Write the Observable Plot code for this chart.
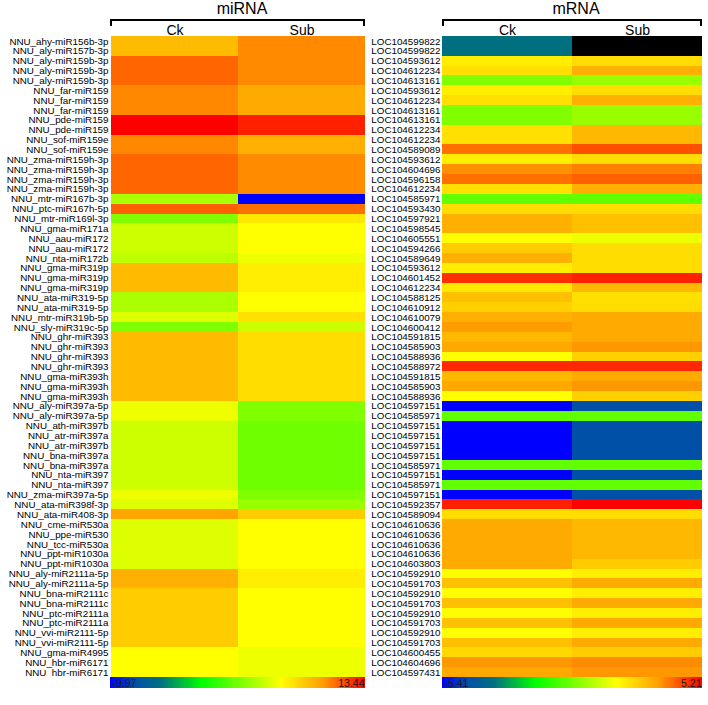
<!DOCTYPE html>
<html><head><meta charset="utf-8">
<script src="https://cdn.jsdelivr.net/npm/d3@7"></script>
<script src="https://cdn.jsdelivr.net/npm/@observablehq/plot@0.6"></script>
<style>
body{margin:0;background:#fff;}
#root{position:relative;width:708px;height:705px;font-family:"Liberation Sans",Arial,sans-serif;overflow:hidden;background:#fff;}
.title{position:absolute;font-size:16px;line-height:16px;top:1px;color:#000;white-space:nowrap;transform:translateX(-50%);}
.bracket{position:absolute;top:19px;height:7px;border:2px solid #000;border-bottom:none;box-sizing:border-box;}
.abs{position:absolute;}
</style></head><body><div id="root"></div>
<script>
// ---------- data ----------
const conditions = ["Ck", "Sub"];
const miRNA_labels = [
"NNU_ahy-miR156b-3p","NNU_aly-miR157b-3p","NNU_aly-miR159b-3p","NNU_aly-miR159b-3p","NNU_aly-miR159b-3p",
"NNU_far-miR159","NNU_far-miR159","NNU_far-miR159","NNU_pde-miR159","NNU_pde-miR159",
"NNU_sof-miR159e","NNU_sof-miR159e","NNU_zma-miR159h-3p","NNU_zma-miR159h-3p","NNU_zma-miR159h-3p",
"NNU_zma-miR159h-3p","NNU_mtr-miR167b-3p","NNU_ptc-miR167h-5p","NNU_mtr-miR169l-3p","NNU_gma-miR171a",
"NNU_aau-miR172","NNU_aau-miR172","NNU_nta-miR172b","NNU_gma-miR319p","NNU_gma-miR319p",
"NNU_gma-miR319p","NNU_ata-miR319-5p","NNU_ata-miR319-5p","NNU_mtr-miR319b-5p","NNU_sly-miR319c-5p",
"NNU_ghr-miR393","NNU_ghr-miR393","NNU_ghr-miR393","NNU_ghr-miR393","NNU_gma-miR393h",
"NNU_gma-miR393h","NNU_gma-miR393h","NNU_aly-miR397a-5p","NNU_aly-miR397a-5p","NNU_ath-miR397b",
"NNU_atr-miR397a","NNU_atr-miR397b","NNU_bna-miR397a","NNU_bna-miR397a","NNU_nta-miR397",
"NNU_nta-miR397","NNU_zma-miR397a-5p","NNU_ata-miR398f-3p","NNU_ata-miR408-3p","NNU_cme-miR530a",
"NNU_ppe-miR530","NNU_tcc-miR530a","NNU_ppt-miR1030a","NNU_ppt-miR1030a","NNU_aly-miR2111a-5p",
"NNU_aly-miR2111a-5p","NNU_bna-miR2111c","NNU_bna-miR2111c","NNU_ptc-miR2111a","NNU_ptc-miR2111a",
"NNU_vvi-miR2111-5p","NNU_vvi-miR2111-5p","NNU_gma-miR4995","NNU_hbr-miR6171","NNU_hbr-miR6171"];
const miRNA_ck = [
8.41,8.41,10.91,10.91,10.91, 10.05,10.05,10.05,13.44,13.44,
10.05,10.05,10.91,10.91,10.91, 10.91,3.30,11.05,2.11,4.26,
4.26,4.26,3.77,8.41,8.41, 8.41,3.30,3.30,4.75,2.11,
8.41,8.41,8.41,8.41,8.41, 8.41,8.41,5.22,5.22,4.26,
4.26,4.26,4.26,4.26,4.26, 4.26,5.22,4.75,9.27,4.75,
4.75,4.75,4.75,4.75,8.83, 8.83,7.73,7.73,7.73,7.73,
7.73,7.73,5.71,5.71,5.71];
const miRNA_sub = [
10.0,10.0,10.0,10.0,10.0, 9.06,9.06,9.06,12.64,12.64,
8.83,8.83,9.95,9.95,9.95, 9.95,-9.97,10.65,6.63,5.71,
5.71,5.71,5.22,6.39,6.39, 6.39,5.71,5.71,6.93,4.26,
7.05,7.05,7.05,7.05,7.05, 7.05,7.05,2.11,2.11,1.64,
1.64,1.64,1.64,1.64,1.64, 1.64,2.11,2.81,7.73,5.71,
5.71,5.71,5.71,5.71,6.39, 6.39,5.71,5.71,5.71,5.71,
5.71,5.71,5.22,5.22,5.22];
const miRNA_range = [-9.97, 13.44];
const miRNA_rangeLabels = ["-9.97", "13.44"];

const mRNA_labels = [
"LOC104599822","LOC104599822","LOC104593612","LOC104612234","LOC104613161",
"LOC104593612","LOC104612234","LOC104613161","LOC104613161","LOC104612234",
"LOC104612234","LOC104589089","LOC104593612","LOC104604696","LOC104596158",
"LOC104612234","LOC104585971","LOC104593430","LOC104597921","LOC104598545",
"LOC104605551","LOC104594266","LOC104589649","LOC104593612","LOC104601452",
"LOC104612234","LOC104588125","LOC104610912","LOC104610079","LOC104600412",
"LOC104591815","LOC104585903","LOC104588936","LOC104588972","LOC104591815",
"LOC104585903","LOC104588936","LOC104597151","LOC104585971","LOC104597151",
"LOC104597151","LOC104597151","LOC104597151","LOC104585971","LOC104597151",
"LOC104585971","LOC104597151","LOC104592357","LOC104589094","LOC104610636",
"LOC104610636","LOC104610636","LOC104610636","LOC104603803","LOC104592910",
"LOC104591703","LOC104592910","LOC104591703","LOC104592910","LOC104591703",
"LOC104592910","LOC104591703","LOC104600455","LOC104604696","LOC104597431"];
const mRNA_ck = [
-3.29,-3.29,2.01,2.26,0.07, 2.01,2.26,0.07,0.07,2.26,
2.26,3.95,2.01,3.59,3.95, 2.26,-0.34,2.31,3.12,3.12,
1.71,2.62,3.12,2.01,4.67, 2.12,2.83,2.54,3.12,3.45,
2.98,3.27,1.71,4.76,2.98, 3.27,1.71,-5.41,-0.34,-5.41,
-5.41,-5.41,-5.41,-0.34,-5.41, -0.34,-5.41,4.85,2.31,3.22,
3.22,3.22,3.22,3.22,1.71, 2.83,1.71,2.83,1.71,2.83,
1.71,2.83,2.41,3.49,3.27];
const mRNA_sub = [
null,null,2.31,3.12,0.39, 2.31,3.12,0.39,0.39,2.98,
2.98,4.31,2.31,3.77,4.13, 3.12,-0.34,2.31,2.83,2.83,
1.48,2.31,2.31,2.31,4.85, 2.98,2.26,2.31,3.22,3.22,
3.22,3.49,2.54,4.76,3.22, 3.49,2.54,-4.35,-0.34,-4.35,
-4.35,-4.35,-4.35,-0.34,-4.35, -0.34,-4.35,5.21,2.31,2.98,
2.98,2.98,2.98,2.62,2.01, 3.22,2.01,3.22,2.01,3.22,
2.01,3.22,2.62,3.63,3.49];
const mRNA_range = [-5.41, 5.21];
const mRNA_rangeLabels = ["-5.41", "5.21"];

// colour ramp (blue -> teal -> green -> yellow -> orange -> red)
const rampStops = [0, 0.1, 0.2, 0.36, 0.67, 0.83, 1];
const rampColors = ["#0000ff", "#0050a8", "#007080", "#00ff00", "#ffff00", "#ffa000", "#ff0000"];

// ---------- drawing ----------
const FONT = '"Liberation Sans", Arial, sans-serif';
const root = document.getElementById("root");

function colorOpts(range) {
  return {type: "linear", domain: rampStops.map(t => range[0] + t * (range[1] - range[0])),
          range: rampColors, interpolate: "rgb", clamp: true};
}

function place(el, left, top) {
  el.classList.add("abs");
  el.style.left = left + "px";
  el.style.top = top + "px";
  root.appendChild(el);
}

function panel({title, labels, ck, sub, range, rangeLabels, left, width, marginLeft, marginRight, titleX}) {
  const heatTop = 36, heatBottom = 677;
  const rows = labels.flatMap((l, i) => [{i, cond: "Ck", v: ck[i]}, {i, cond: "Sub", v: sub[i]}]);
  const idx = d3.range(labels.length);
  const heat = Plot.plot({
    width, height: heatBottom, marginTop: heatTop, marginBottom: 0, marginLeft, marginRight,
    style: {fontFamily: FONT, background: "transparent", color: "#000"},
    x: {domain: conditions, padding: 0, axis: null},
    y: {domain: idx, padding: 0, axis: null},
    color: colorOpts(range),
    marks: [
      Plot.cell(rows.filter(d => d.v != null), {x: "cond", y: "i", fill: "v", inset: 0, shapeRendering: "crispEdges"}),
      Plot.cell(rows.filter(d => d.v == null), {x: "cond", y: "i", fill: "#000", inset: 0, shapeRendering: "crispEdges"}),
      Plot.axisY({ticks: idx, tickSize: 0, tickPadding: 2, tickFormat: i => labels[i], fontSize: 9.8, fill: "#000", label: null}),
      Plot.axisX({anchor: "top", ticks: conditions, tickSize: 0, tickPadding: 2, fontSize: 14, label: null, fill: "#000"})
    ]
  });
  place(heat, left, 0);

  const n = 240;
  const steps = d3.range(n).map(k => ({
    a: range[0] + (range[1] - range[0]) * k / n,
    b: range[0] + (range[1] - range[0]) * (k + 1) / n
  }));
  const bar = Plot.plot({
    width, height: 11, marginTop: 0, marginBottom: 0, marginLeft, marginRight,
    style: {fontFamily: FONT, background: "transparent"},
    x: {domain: range, axis: null},
    color: colorOpts(range),
    marks: [
      Plot.rect(steps, {x1: "a", x2: "b", fill: d => (d.a + d.b) / 2, shapeRendering: "crispEdges"}),
      Plot.text([rangeLabels[0]], {frameAnchor: "left", dx: 2, dy: 0.5, fontSize: 10.5, fill: "#1a1a1a", text: d => d}),
      Plot.text([rangeLabels[1]], {frameAnchor: "right", dx: -1, dy: 0.5, fontSize: 10.5, fill: "#1a1a1a", text: d => d})
    ]
  });
  place(bar, left, heatBottom);

  const t = document.createElement("div");
  t.className = "title";
  t.textContent = title;
  t.style.left = titleX + "px";
  root.appendChild(t);

  const br = document.createElement("div");
  br.className = "bracket";
  br.style.left = (left + marginLeft) + "px";
  br.style.width = (width - marginLeft - marginRight) + "px";
  root.appendChild(br);
}

panel({title: "miRNA", labels: miRNA_labels, ck: miRNA_ck, sub: miRNA_sub, range: miRNA_range,
       rangeLabels: miRNA_rangeLabels, left: 0, width: 370, marginLeft: 110, marginRight: 5, titleX: 242});
panel({title: "mRNA", labels: mRNA_labels, ck: mRNA_ck, sub: mRNA_sub, range: mRNA_range,
       rangeLabels: mRNA_rangeLabels, left: 355, width: 353, marginLeft: 87, marginRight: 6, titleX: 576});
</script>
</body></html>
